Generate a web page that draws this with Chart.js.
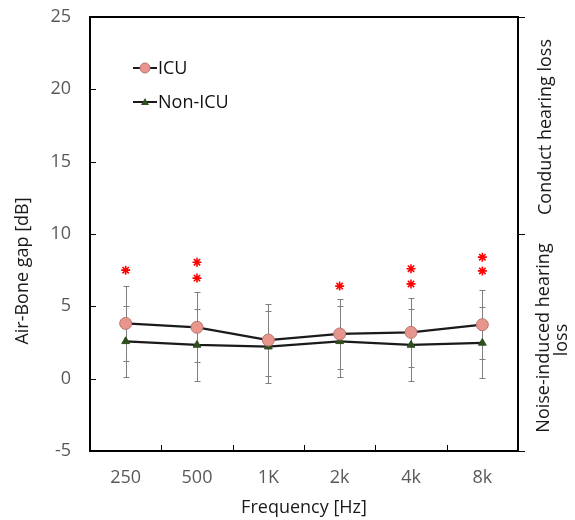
<!DOCTYPE html>
<html>
<head>
<meta charset="utf-8">
<script src="https://cdn.jsdelivr.net/npm/chart.js@4.4.0/dist/chart.umd.min.js"></script>
<style>
  body { margin: 0; background: #fff; }
  #wrap { width: 575px; height: 520px; }
</style>
</head>
<body>
<div id="wrap"><canvas id="myChart" width="575" height="520"></canvas></div>
<script>
// data
const frequencies = ['250', '500', '1K', '2k', '4k', '8k'];
const icuMean = [3.82, 3.55, 2.67, 3.09, 3.20, 3.73];
const icuSd = [2.60, 2.41, 2.49, 2.41, 2.37, 2.40];
const nonIcuMean = [2.58, 2.33, 2.21, 2.58, 2.33, 2.47];
const nonIcuSd = [2.46, 2.48, 2.50, 2.46, 2.48, 2.45];
// y position of the red asterisks (significance marks) for each frequency
const starLevels = [[7.5], [8.05, 6.95], [], [6.4], [7.6, 6.55], [8.4, 7.45]];
const yTicks = { min: -5, max: 25, step: 5 };

const FONT = '"Open Sans", sans-serif';

const starPoints = [];
starLevels.forEach((levels, i) => {
  levels.forEach(v => starPoints.push({ x: frequencies[i], y: v }));
});

// error bars, legend, side labels and small inner ticks
const decor = {
  id: 'decor',
  beforeDatasetsDraw(chart) {
    const ctx = chart.ctx;
    const x = chart.scales.x;
    const y = chart.scales.y;
    ctx.save();
    ctx.strokeStyle = '#7f7f7f';
    ctx.lineWidth = 1;
    const bars = (means, sds) => {
      means.forEach((m, i) => {
        const px = Math.round(x.getPixelForValue(i)) + 0.5;
        const top = Math.round(y.getPixelForValue(m + sds[i])) + 0.5;
        const bot = Math.round(y.getPixelForValue(m - sds[i])) + 0.5;
        ctx.beginPath();
        ctx.moveTo(px, top); ctx.lineTo(px, bot);
        ctx.moveTo(px - 3, top); ctx.lineTo(px + 3, top);
        ctx.moveTo(px - 3, bot); ctx.lineTo(px + 3, bot);
        ctx.stroke();
      });
    };
    bars(icuMean, icuSd);
    bars(nonIcuMean, nonIcuSd);
    ctx.restore();
  },
  afterDraw(chart) {
    const ctx = chart.ctx;
    const a = chart.chartArea;
    const x = chart.scales.x;
    const y = chart.scales.y;
    ctx.save();

    // top border of the box
    ctx.strokeStyle = '#000';
    ctx.lineWidth = 2;
    ctx.beginPath();
    ctx.moveTo(a.left - 1, a.top); ctx.lineTo(a.right + 1, a.top);
    ctx.stroke();

    // inner ticks
    ctx.lineWidth = 1;
    ctx.beginPath();
    for (let v = yTicks.min + yTicks.step; v < yTicks.max; v += yTicks.step) {
      const py = Math.round(y.getPixelForValue(v)) + 0.5;
      ctx.moveTo(a.left, py); ctx.lineTo(a.left + 6, py);
    }
    for (let i = 1; i < frequencies.length; i++) {
      const px = Math.round((x.getPixelForValue(i - 1) + x.getPixelForValue(i)) / 2) + 0.5;
      ctx.moveTo(px, a.bottom); ctx.lineTo(px, a.bottom - 6);
    }
    [25, 10, -5].forEach(v => {
      const py = Math.round(y.getPixelForValue(v)) + 0.5;
      ctx.moveTo(a.right, py); ctx.lineTo(a.right + 7, py);
    });
    ctx.stroke();

    // legend
    const legend = (ly, label, drawMarker) => {
      ctx.strokeStyle = '#1a1a1a';
      ctx.lineWidth = 2;
      ctx.beginPath();
      ctx.moveTo(133, ly); ctx.lineTo(157, ly);
      ctx.stroke();
      drawMarker(145, ly);
      ctx.fillStyle = '#111';
      ctx.font = '18px ' + FONT;
      ctx.textAlign = 'left';
      ctx.textBaseline = 'middle';
      ctx.fillText(label, 158, ly + 1);
    };
    legend(68, 'ICU', (cx, cy) => {
      ctx.beginPath();
      ctx.arc(cx, cy, 5, 0, Math.PI * 2);
      ctx.fillStyle = '#e8968d';
      ctx.fill();
      ctx.strokeStyle = '#b8756e';
      ctx.lineWidth = 1;
      ctx.stroke();
    });
    legend(102, 'Non-ICU', (cx, cy) => {
      ctx.beginPath();
      ctx.moveTo(cx, cy - 4); ctx.lineTo(cx + 4, cy + 3); ctx.lineTo(cx - 4, cy + 3);
      ctx.closePath();
      ctx.fillStyle = '#2f4f1f';
      ctx.fill();
    });

    // rotated texts
    const vtext = (txt, bx, cy, color) => {
      ctx.save();
      ctx.translate(bx, cy);
      ctx.rotate(-Math.PI / 2);
      ctx.fillStyle = color;
      ctx.font = '18px ' + FONT;
      ctx.textAlign = 'center';
      ctx.textBaseline = 'alphabetic';
      ctx.fillText(txt, 0, 0);
      ctx.restore();
    };
    vtext('Air-Bone gap [dB]', 28, 271, '#1a1a1a');
    vtext('Conduct hearing loss', 551, 127, '#1a1a1a');
    vtext('Noise-induced hearing', 549, 338, '#1a1a1a');
    vtext('loss', 567, 340, '#1a1a1a');

    // x title
    ctx.fillStyle = '#1a1a1a';
    ctx.font = '18px ' + FONT;
    ctx.textAlign = 'center';
    ctx.textBaseline = 'alphabetic';
    ctx.fillText('Frequency [Hz]', (a.left + a.right) / 2, 513);

    ctx.restore();
  }
};

const ctx = document.getElementById('myChart').getContext('2d');
new Chart(ctx, {
  type: 'line',
  data: {
    labels: frequencies,
    datasets: [
      {
        label: 'Significance',
        type: 'scatter',
        data: starPoints,
        pointStyle: 'star',
        pointRadius: 4.5,
        borderColor: '#ff0000',
        borderWidth: 1.6,
        backgroundColor: '#ff0000',
        showLine: false,
        order: 0,
      },
      {
        label: 'ICU',
        data: icuMean,
        borderColor: '#1a1a1a',
        borderWidth: 2.3,
        pointStyle: 'circle',
        pointRadius: 6,
        pointBackgroundColor: '#e8968d',
        pointBorderColor: '#b8756e',
        pointBorderWidth: 1,
        tension: 0,
        order: 1,
      },
      {
        label: 'Non-ICU',
        data: nonIcuMean,
        borderColor: '#1a1a1a',
        borderWidth: 2.3,
        pointStyle: 'triangle',
        pointRadius: 4.5,
        pointBackgroundColor: '#2f4f1f',
        pointBorderColor: '#2f4f1f',
        pointBorderWidth: 1,
        tension: 0,
        order: 2,
      },
    ],
  },
  options: {
    responsive: false,
    animation: false,
    layout: { padding: { top: 17, left: 0, right: 0, bottom: 0 } },
    plugins: {
      legend: { display: false },
      tooltip: { enabled: false },
    },
    scales: {
      x: {
        type: 'category',
        offset: true,
        grid: { display: false, drawTicks: false },
        border: { display: true, color: '#000', width: 2 },
        ticks: { color: '#595959', font: { family: FONT, size: 18 }, padding: 16, maxRotation: 0 },
        afterFit(scale) { scale.height = 69; scale.paddingLeft = 0; scale.paddingRight = 0; },
      },
      y: {
        position: 'left',
        min: yTicks.min,
        max: yTicks.max,
        grid: { display: false, drawTicks: false },
        border: { display: true, color: '#000', width: 2 },
        ticks: { stepSize: yTicks.step, color: '#595959', font: { family: FONT, size: 18 }, padding: 19 },
        afterFit(scale) { scale.width = 90; scale.paddingTop = 0; scale.paddingBottom = 0; },
      },
      y2: {
        position: 'right',
        min: yTicks.min,
        max: yTicks.max,
        grid: { display: false, drawTicks: false },
        border: { display: true, color: '#000', width: 2 },
        ticks: { display: false },
        afterFit(scale) { scale.width = 57; scale.paddingTop = 0; scale.paddingBottom = 0; },
      },
    },
  },
  plugins: [decor],
});
</script>
</body>
</html>
